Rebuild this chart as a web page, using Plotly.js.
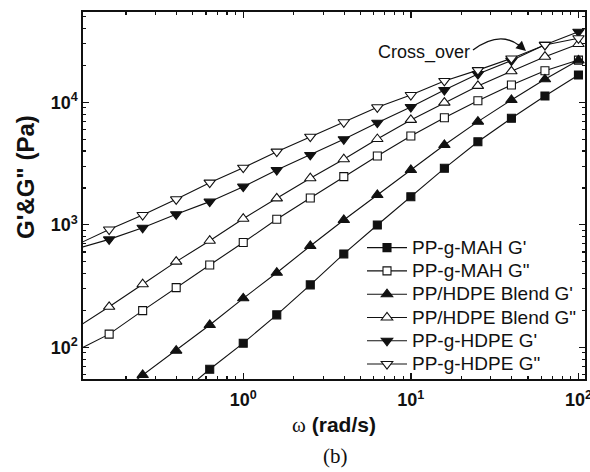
<!DOCTYPE html>
<html>
<head>
<meta charset="utf-8">
<script src="https://cdn.plot.ly/plotly-3.0.1.min.js"></script>
<style>html,body{margin:0;padding:0;background:#fff;}</style>
</head>
<body>
<div id="chart" style="width:590px;height:472px;"></div>
<script>
// Angular frequency (rad/s)
const omega = [0.1, 0.1585, 0.2512, 0.3981, 0.631, 1, 1.585, 2.512, 3.981, 6.31, 10, 15.85, 25.12, 39.81, 63.1, 100];
// Moduli (Pa)
const mahGp    = [null, null, null, 39, 66.1, 108, 184, 323, 578, 995, 1694, 2890, 4760, 7400, 11250, 16700];
const mahGpp   = [93, 128, 199, 307, 470, 716, 1109, 1655, 2473, 3648, 5310, 7480, 10300, 13840, 18100, 22100];
const blendGp  = [null, 37, 59.4, 93.8, 152, 251, 406, 671, 1094, 1750, 2800, 4480, 6950, 10440, 15400, 22000];
const blendGpp = [143, 214, 327, 500, 741, 1120, 1644, 2399, 3428, 5012, 7180, 9930, 13600, 17900, 23550, 29900];
const hdpeGp   = [635, 760, 946, 1219, 1545, 2047, 2801, 3715, 4989, 6810, 9150, 12600, 17000, 21900, 29500, 37650];
const hdpeGpp  = [681, 915, 1202, 1614, 2207, 2924, 3953, 5237, 6870, 9100, 11470, 14930, 18300, 22800, 29400, 33300];

const seriesNames = ["PP-g-MAH G'", 'PP-g-MAH G"', "PP/HDPE Blend G'", 'PP/HDPE Blend G"', "PP-g-HDPE G'", 'PP-g-HDPE G"'];
const seriesData = [mahGp, mahGpp, blendGp, blendGpp, hdpeGp, hdpeGpp];

const xTickVals = [1, 10, 100];
const xTickText = ['10<sup>0</sup>', '10<sup>1</sup>', '10<sup>2</sup>'];
const xMinorVals = [0.2,0.3,0.4,0.5,0.6,0.7,0.8,0.9,2,3,4,5,6,7,8,9,20,30,40,50,60,70,80,90];
const yTickVals = [100, 1000, 10000];
const yTickText = ['10<sup>2</sup>', '10<sup>3</sup>', '10<sup>4</sup>'];
const yMinorVals = [60,70,80,90,200,300,400,500,600,700,800,900,2000,3000,4000,5000,6000,7000,8000,9000,20000,30000,40000,50000];

const symbols = ['square', 'square', 'triangle-up', 'triangle-up', 'triangle-down', 'triangle-down'];
const filled = [true, false, true, false, true, false];
const sizes = [8, 8, 10, 10, 10, 10];

const traces = seriesData.map((ys, i) => ({
  type: 'scatter', mode: 'lines+markers',
  x: omega, y: ys,
  name: '<span style="font-size:19px">' + seriesNames[i] + '</span>',
  line: {color: '#111', width: 1.1},
  marker: {symbol: symbols[i], size: sizes[i], color: filled[i] ? '#111' : '#fff', line: {color: '#111', width: 1.1}},
  connectgaps: false
}));

const L = 83, R = 5, T = 12, B = 93, W = 590, H = 472;
const pw = W - L - R, ph = H - T - B;
function px(x) { return (x - L) / pw; }
function py(y) { return (H - B - y) / ph; }

const axisCommon = {
  type: 'log', showline: true, linecolor: '#111', linewidth: 1.6, mirror: 'allticks',
  ticks: 'inside', ticklen: 6, tickwidth: 1.4, tickcolor: '#111', showgrid: false, zeroline: false,
  tickmode: 'array', ticklabeloverflow: 'allow',
  tickfont: {family: 'Liberation Sans, Arial, sans-serif', size: 18, weight: 'bold', color: '#111'}
};

const layout = {
  width: W, height: H,
  margin: {l: L, r: R, t: T, b: B},
  paper_bgcolor: '#fff', plot_bgcolor: '#fff',
  showlegend: true,
  xaxis: Object.assign({}, axisCommon, {
    range: [-0.956, 2.039], tickvals: xTickVals, ticktext: xTickText, ticklabelstandoff: 4,
    minor: {ticks: 'inside', ticklen: 3, tickwidth: 1.2, tickcolor: '#111', tickmode: 'array', tickvals: xMinorVals, showgrid: false},
    title: {text: '<span style="font-family:Liberation Serif, Times New Roman, serif;font-weight:normal">ω</span> (rad/s)', standoff: 8,
      font: {family: 'Liberation Sans, Arial, sans-serif', size: 21, weight: 'bold', color: '#111'}}
  }),
  yaxis: Object.assign({}, axisCommon, {
    range: [1.741, 4.737], tickvals: yTickVals, ticktext: yTickText,
    minor: {ticks: 'inside', ticklen: 3, tickwidth: 1.2, tickcolor: '#111', tickmode: 'array', tickvals: yMinorVals, showgrid: false},
    title: {text: ''}
  }),
  legend: {
    x: px(362), y: py(231), xanchor: 'left', yanchor: 'top', itemwidth: 40,
    bgcolor: 'rgba(0,0,0,0)', borderwidth: 0, tracegroupgap: 0,
    font: {family: 'Liberation Sans, Arial, sans-serif', size: 15.6, color: '#111'}
  },
  shapes: [{
    type: 'path', xref: 'paper', yref: 'paper',
    path: 'M' + px(473) + ',' + py(50) + ' Q' + px(500) + ',' + py(30) + ' ' + px(520) + ',' + py(46),
    line: {color: '#111', width: 1.4}
  }],
  annotations: [
    {xref: 'paper', yref: 'paper', x: px(25), y: py(177), text: 'G\'&amp;G" (Pa)', textangle: -90, showarrow: false,
     font: {family: 'Liberation Sans, Arial, sans-serif', size: 24, weight: 'bold', color: '#111'}, xanchor: 'center', yanchor: 'middle'},
    {xref: 'paper', yref: 'paper', x: px(424), y: py(53), text: 'Cross_over', showarrow: false,
     font: {family: 'Liberation Sans, Arial, sans-serif', size: 18, color: '#111'}, xanchor: 'center', yanchor: 'middle'},
    {xref: 'paper', yref: 'paper', x: px(526), y: py(51), ax: -9, ay: -8, text: '', showarrow: true,
     arrowhead: 2, arrowsize: 1.4, arrowwidth: 1.4, arrowcolor: '#111'},
    {xref: 'paper', yref: 'paper', x: px(335), y: py(456), text: '(b)', showarrow: false,
     font: {family: 'Liberation Serif, Times New Roman, serif', size: 21, color: '#111'}, xanchor: 'center', yanchor: 'middle'}
  ]
};

Plotly.newPlot('chart', traces, layout, {displayModeBar: false, staticPlot: true});
</script>
</body>
</html>
